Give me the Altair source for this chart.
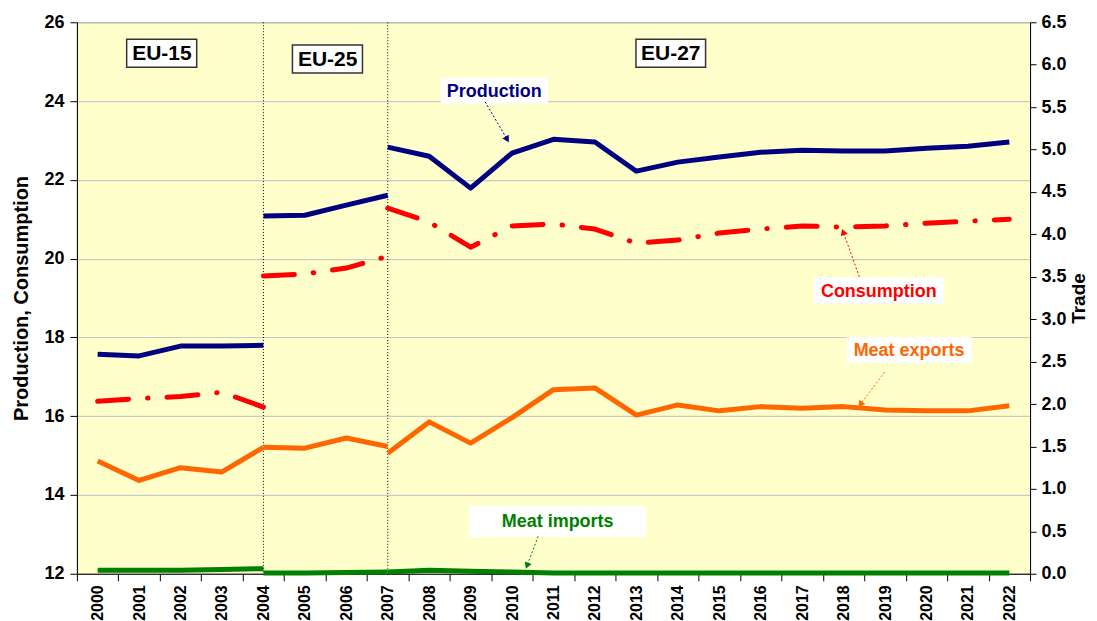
import altair as alt
import pandas as pd

# ---- data ----
years_eu15 = [2000, 2001, 2002, 2003, 2004]
years_eu25 = [2004, 2005, 2006, 2007]
years_eu27 = [2007, 2008, 2009, 2010, 2011, 2012, 2013, 2014,
              2015, 2016, 2017, 2018, 2019, 2020, 2021, 2022]

production_eu15 = [17.57, 17.53, 17.78, 17.78, 17.80]
production_eu25 = [21.08, 21.10, 21.36, 21.61]
production_eu27 = [22.83, 22.60, 21.79, 22.68, 23.03, 22.96, 22.22, 22.45,
                   22.58, 22.70, 22.75, 22.73, 22.73, 22.80, 22.85, 22.96]

consumption_eu15 = [16.38, 16.45, 16.50, 16.61, 16.23]
consumption_eu25 = [19.56, 19.61, 19.76, 20.06]
consumption_eu27 = [21.28, 20.93, 20.29, 20.83, 20.88, 20.75, 20.39, 20.47,
                    20.65, 20.75, 20.83, 20.80, 20.83, 20.90, 20.95, 21.00]

exports_eu15 = [1.33, 1.10, 1.25, 1.20, 1.49]
exports_eu25 = [1.49, 1.48, 1.60, 1.50]
exports_eu27 = [1.42, 1.79, 1.54, 1.84, 2.17, 2.19, 1.87, 1.99,
                1.92, 1.97, 1.95, 1.97, 1.93, 1.92, 1.92, 1.98]

imports_eu15 = [0.04, 0.04, 0.04, 0.05, 0.06]
imports_eu25 = [0.01, 0.01, 0.015, 0.02]
imports_eu27 = [0.02, 0.04, 0.03, 0.02, 0.01, 0.01, 0.01, 0.01,
                0.01, 0.01, 0.01, 0.01, 0.01, 0.01, 0.01, 0.01]

periods = ["EU-15", "EU-25", "EU-27"]
period_boundaries = [2004, 2007]

rows = []
for period, yrs, prod, cons, exp_, imp in [
    ("EU-15", years_eu15, production_eu15, consumption_eu15, exports_eu15, imports_eu15),
    ("EU-25", years_eu25, production_eu25, consumption_eu25, exports_eu25, imports_eu25),
    ("EU-27", years_eu27, production_eu27, consumption_eu27, exports_eu27, imports_eu27),
]:
    for y, p, c, e, i in zip(yrs, prod, cons, exp_, imp):
        rows.append({"year": y, "period": period, "production": p,
                     "consumption": c, "exports": e, "imports": i})
df = pd.DataFrame(rows)

# ---- annotations (positions in data units of x / left y) ----
boxes = pd.DataFrame({
    "x1": [2000.70, 2004.70, 2012.99, 2008.30, 2017.30, 2018.10, 2008.99],
    "x2": [2002.39, 2006.39, 2014.67, 2010.85, 2020.41, 2021.07, 2013.22],
    "y1": [25.57, 25.42, 25.57, 24.58, 19.50, 17.99, 13.71],
    "y2": [24.86, 24.71, 24.86, 23.95, 18.88, 17.38, 12.95],
    "stroke": ["#333333", "#333333", "#333333", "white", "white", "white", "white"],
})
eu_text = pd.DataFrame({
    "label": periods,
    "x": [2001.55, 2005.55, 2013.83],
    "y": [25.21, 25.06, 25.21],
})
series_text = pd.DataFrame({
    "label": ["Production", "Consumption", "Meat exports", "Meat imports"],
    "x": [2009.57, 2018.85, 2019.58, 2011.10],
    "y": [24.26, 19.19, 17.68, 13.33],
    "col": ["#000080", "#FF0000", "#FF6600", "#008000"],
})
arrows = pd.DataFrame({
    "x": [2009.35, 2018.38, 2018.99, 2010.63],
    "y": [23.98, 19.54, 17.12, 12.95],
    "x2": [2009.87, 2018.00, 2018.42, 2010.37],
    "y2": [23.05, 20.65, 16.32, 12.23],
    "angle": [149, 340, 217, 201],
    "col": ["#000080", "#FF0000", "#FF6600", "#008000"],
})

FONT = "Liberation Sans"
tick_values = [1999.5 + k for k in range(24)]

x_scale = alt.Scale(domain=[1999.5, 2022.5], nice=False, zero=False)
x_axis = alt.Axis(
    title=None, values=tick_values, grid=False,
    labelExpr="datum.value < 2022 ? format(datum.value + 0.5, 'd') : ''",
    labelOffset=20.74, labelAngle=270, labelFontSize=16, labelFontWeight="bold",
    labelPadding=4, tickSize=7, labelFlush=False, labelOverlap=False, labelBound=False,
    domainColor="black", tickColor="black", labelColor="black",
)
yl_scale = alt.Scale(domain=[12, 26], nice=False, zero=False)
yl_axis = alt.Axis(
    title="Production, Consumption", values=[12, 14, 16, 18, 20, 22, 24, 26],
    format="d", grid=True, gridColor="#C8C8C8", gridWidth=1.2,
    labelFontSize=18, labelFontWeight="bold", titleFontSize=20, titleFontWeight="bold",
    tickSize=7, labelPadding=6, titlePadding=12,
    domainColor="black", tickColor="black", labelColor="black", titleColor="black",
)
yr_scale = alt.Scale(domain=[0, 6.5], nice=False, zero=True)
yr_axis = alt.Axis(
    title="Trade", orient="right", values=[k * 0.5 for k in range(14)],
    format=".1f", grid=False,
    labelFontSize=18, labelFontWeight="bold", titleFontSize=19, titleFontWeight="bold",
    tickSize=6, labelPadding=5, titlePadding=3, titleAngle=270, titleBaseline="top",
    domainColor="black", tickColor="black", labelColor="black", titleColor="black",
)

base = alt.Chart(df)
X = alt.X("year:Q", scale=x_scale, axis=x_axis)

rules = alt.Chart(pd.DataFrame({"year": period_boundaries})).mark_rule(
    color="black", strokeDash=[1, 2], strokeWidth=1
).encode(x=alt.X("year:Q", scale=x_scale, axis=x_axis))

prod_line = base.mark_line(color="#000080", strokeWidth=5, strokeJoin="round").encode(
    x=X, y=alt.Y("production:Q", scale=yl_scale, axis=yl_axis), detail="period:N"
)
cons_line = base.mark_line(
    color="#FF0000", strokeWidth=5, strokeJoin="round", strokeCap="round",
    strokeDash=[31, 19, 0.5, 19]
).encode(x=X, y=alt.Y("consumption:Q", scale=yl_scale, axis=yl_axis), detail="period:N")

box_layer = alt.Chart(boxes).mark_rect(fill="white", strokeWidth=1.5).encode(
    x=alt.X("x1:Q", scale=x_scale, axis=x_axis), x2="x2",
    y=alt.Y("y1:Q", scale=yl_scale, axis=yl_axis), y2="y2",
    stroke=alt.Stroke("stroke:N", scale=None),
)
eu_labels = alt.Chart(eu_text).mark_text(
    font=FONT, fontSize=21, fontWeight="bold", color="black", baseline="middle", dy=1
).encode(x=alt.X("x:Q", scale=x_scale, axis=x_axis),
         y=alt.Y("y:Q", scale=yl_scale, axis=yl_axis), text="label:N")
s_labels = alt.Chart(series_text).mark_text(
    font=FONT, fontSize=18, fontWeight="bold", baseline="middle", dy=1
).encode(x=alt.X("x:Q", scale=x_scale, axis=x_axis),
         y=alt.Y("y:Q", scale=yl_scale, axis=yl_axis), text="label:N",
         color=alt.Color("col:N", scale=None))
arrow_lines = alt.Chart(arrows).mark_rule(strokeDash=[2, 2], strokeWidth=1).encode(
    x=alt.X("x:Q", scale=x_scale, axis=x_axis), x2="x2",
    y=alt.Y("y:Q", scale=yl_scale, axis=yl_axis), y2="y2",
    color=alt.Color("col:N", scale=None),
)
arrow_heads = alt.Chart(arrows).mark_point(shape="triangle", filled=True, size=55, opacity=1).encode(
    x=alt.X("x2:Q", scale=x_scale, axis=x_axis),
    y=alt.Y("y2:Q", scale=yl_scale, axis=yl_axis),
    angle=alt.Angle("angle:Q", scale=None),
    color=alt.Color("col:N", scale=None),
)

left = alt.layer(rules, prod_line, cons_line, box_layer, eu_labels, s_labels,
                 arrow_lines, arrow_heads)

exp_line = base.mark_line(color="#FF6600", strokeWidth=5, strokeJoin="round").encode(
    x=X, y=alt.Y("exports:Q", scale=yr_scale, axis=yr_axis), detail="period:N"
)
imp_line = base.mark_line(color="#008000", strokeWidth=5, strokeJoin="round").encode(
    x=X, y=alt.Y("imports:Q", scale=yr_scale, axis=yr_axis), detail="period:N"
)
right = alt.layer(exp_line, imp_line)

chart = alt.layer(left, right).resolve_scale(y="independent").properties(
    width=954, height=552,
    padding={"left": 3, "top": 5, "right": 0, "bottom": 0},
).configure(font=FONT).configure_view(fill="#FFFFCC", stroke="#808080", strokeWidth=1)

chart.save("out.html", embed_options={"renderer": "svg", "actions": False})
